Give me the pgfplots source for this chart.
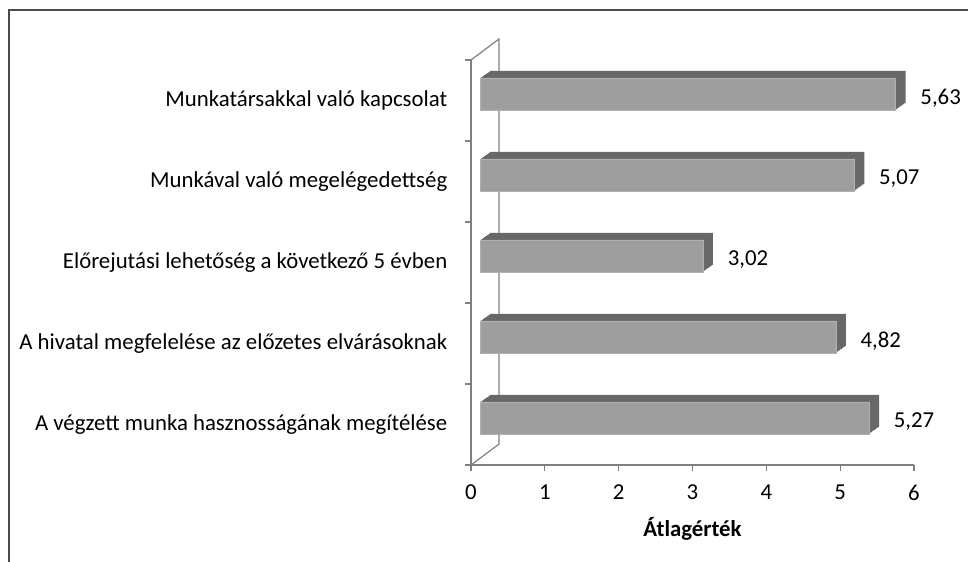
\documentclass[border=0pt]{standalone}
\usepackage{fontspec}
\setmainfont{Carlito}
\usepackage{pgfplots}
\pgfplotsset{compat=1.18}
\definecolor{barfront}{HTML}{9E9E9E}
\definecolor{bartop}{HTML}{686868}
\definecolor{wall}{HTML}{7F7F7F}
\definecolor{frame}{HTML}{4A4A4A}
\begin{document}
\fontsize{22.8bp}{27bp}\selectfont
\begin{tikzpicture}
\begin{axis}[
  at={(471bp,97bp)}, anchor=south west,
  scale only axis, width=443bp, height=405bp,
  xmin=0, xmax=6, ymin=0.5, ymax=5.5,
  enlargelimits=false, clip=false,
  axis x line*=bottom, axis y line*=left,
  axis line style={draw=wall, line width=1.2bp, -},
  xtick={0,1,2,3,4,5,6},
  ytick={1,2,3,4,5},
  yticklabels={A végzett munka hasznosságának megítélése,
               A hivatal megfelelése az előzetes elvárásoknak,
               Előrejutási lehetőség a következő 5 évben,
               Munkával való megelégedettség,
               Munkatársakkal való kapcsolat},
  minor ytick={0.5,1.5,2.5,3.5,4.5,5.5},
  tick align=outside,
  major tick length=6bp, minor tick length=6bp,
  major x tick style={draw=wall, line width=1.2bp},
  major y tick style={draw=none},
  minor y tick style={draw=wall, line width=1.2bp},
  /pgf/number format/assume math mode=true,
  yticklabel style={xshift=-10bp},
  xticklabel style={yshift=-6bp},
  xlabel={\textbf{Átlagérték}},
  xlabel style={yshift=-2bp},
]
\draw[wall, line width=1.2bp] (axis cs:0,5.5) -- ++(28bp,21bp) -- ([shift={(28bp,21bp)}]axis cs:0,0.5) -- (axis cs:0,0.5);
\pgfplotsinvokeforeach{10,9,...,1}{
\addplot[xbar, bar width=32bp, bar shift=0pt, fill=bartop, draw=none,
  xshift={9bp+#1*1bp}, yshift={6.5bp+#1*0.7bp}, forget plot]
  coordinates {(5.27,1) (4.82,2) (3.02,3) (5.07,4) (5.63,5)};
}
\addplot[xbar, bar width=32bp, bar shift=0pt, fill=barfront, draw=barfront!80!white, line width=0.4bp,
  xshift=9bp, yshift=6.5bp,
  nodes near coords={\pgfmathprintnumber[fixed,fixed zerofill,precision=2,use comma]{\pgfplotspointmeta}},
  nodes near coords style={anchor=west, xshift=17bp, yshift=-4bp, text=black},
  point meta=x]
  coordinates {(5.27,1) (4.82,2) (3.02,3) (5.07,4) (5.63,5)};
\end{axis}
\draw[frame, line width=2bp] (9bp,0bp) -- (9bp,552bp) -- (968bp,552bp);
\pgfresetboundingbox
\path (0bp,0bp) rectangle (968bp,562bp);
\end{tikzpicture}
\end{document}
